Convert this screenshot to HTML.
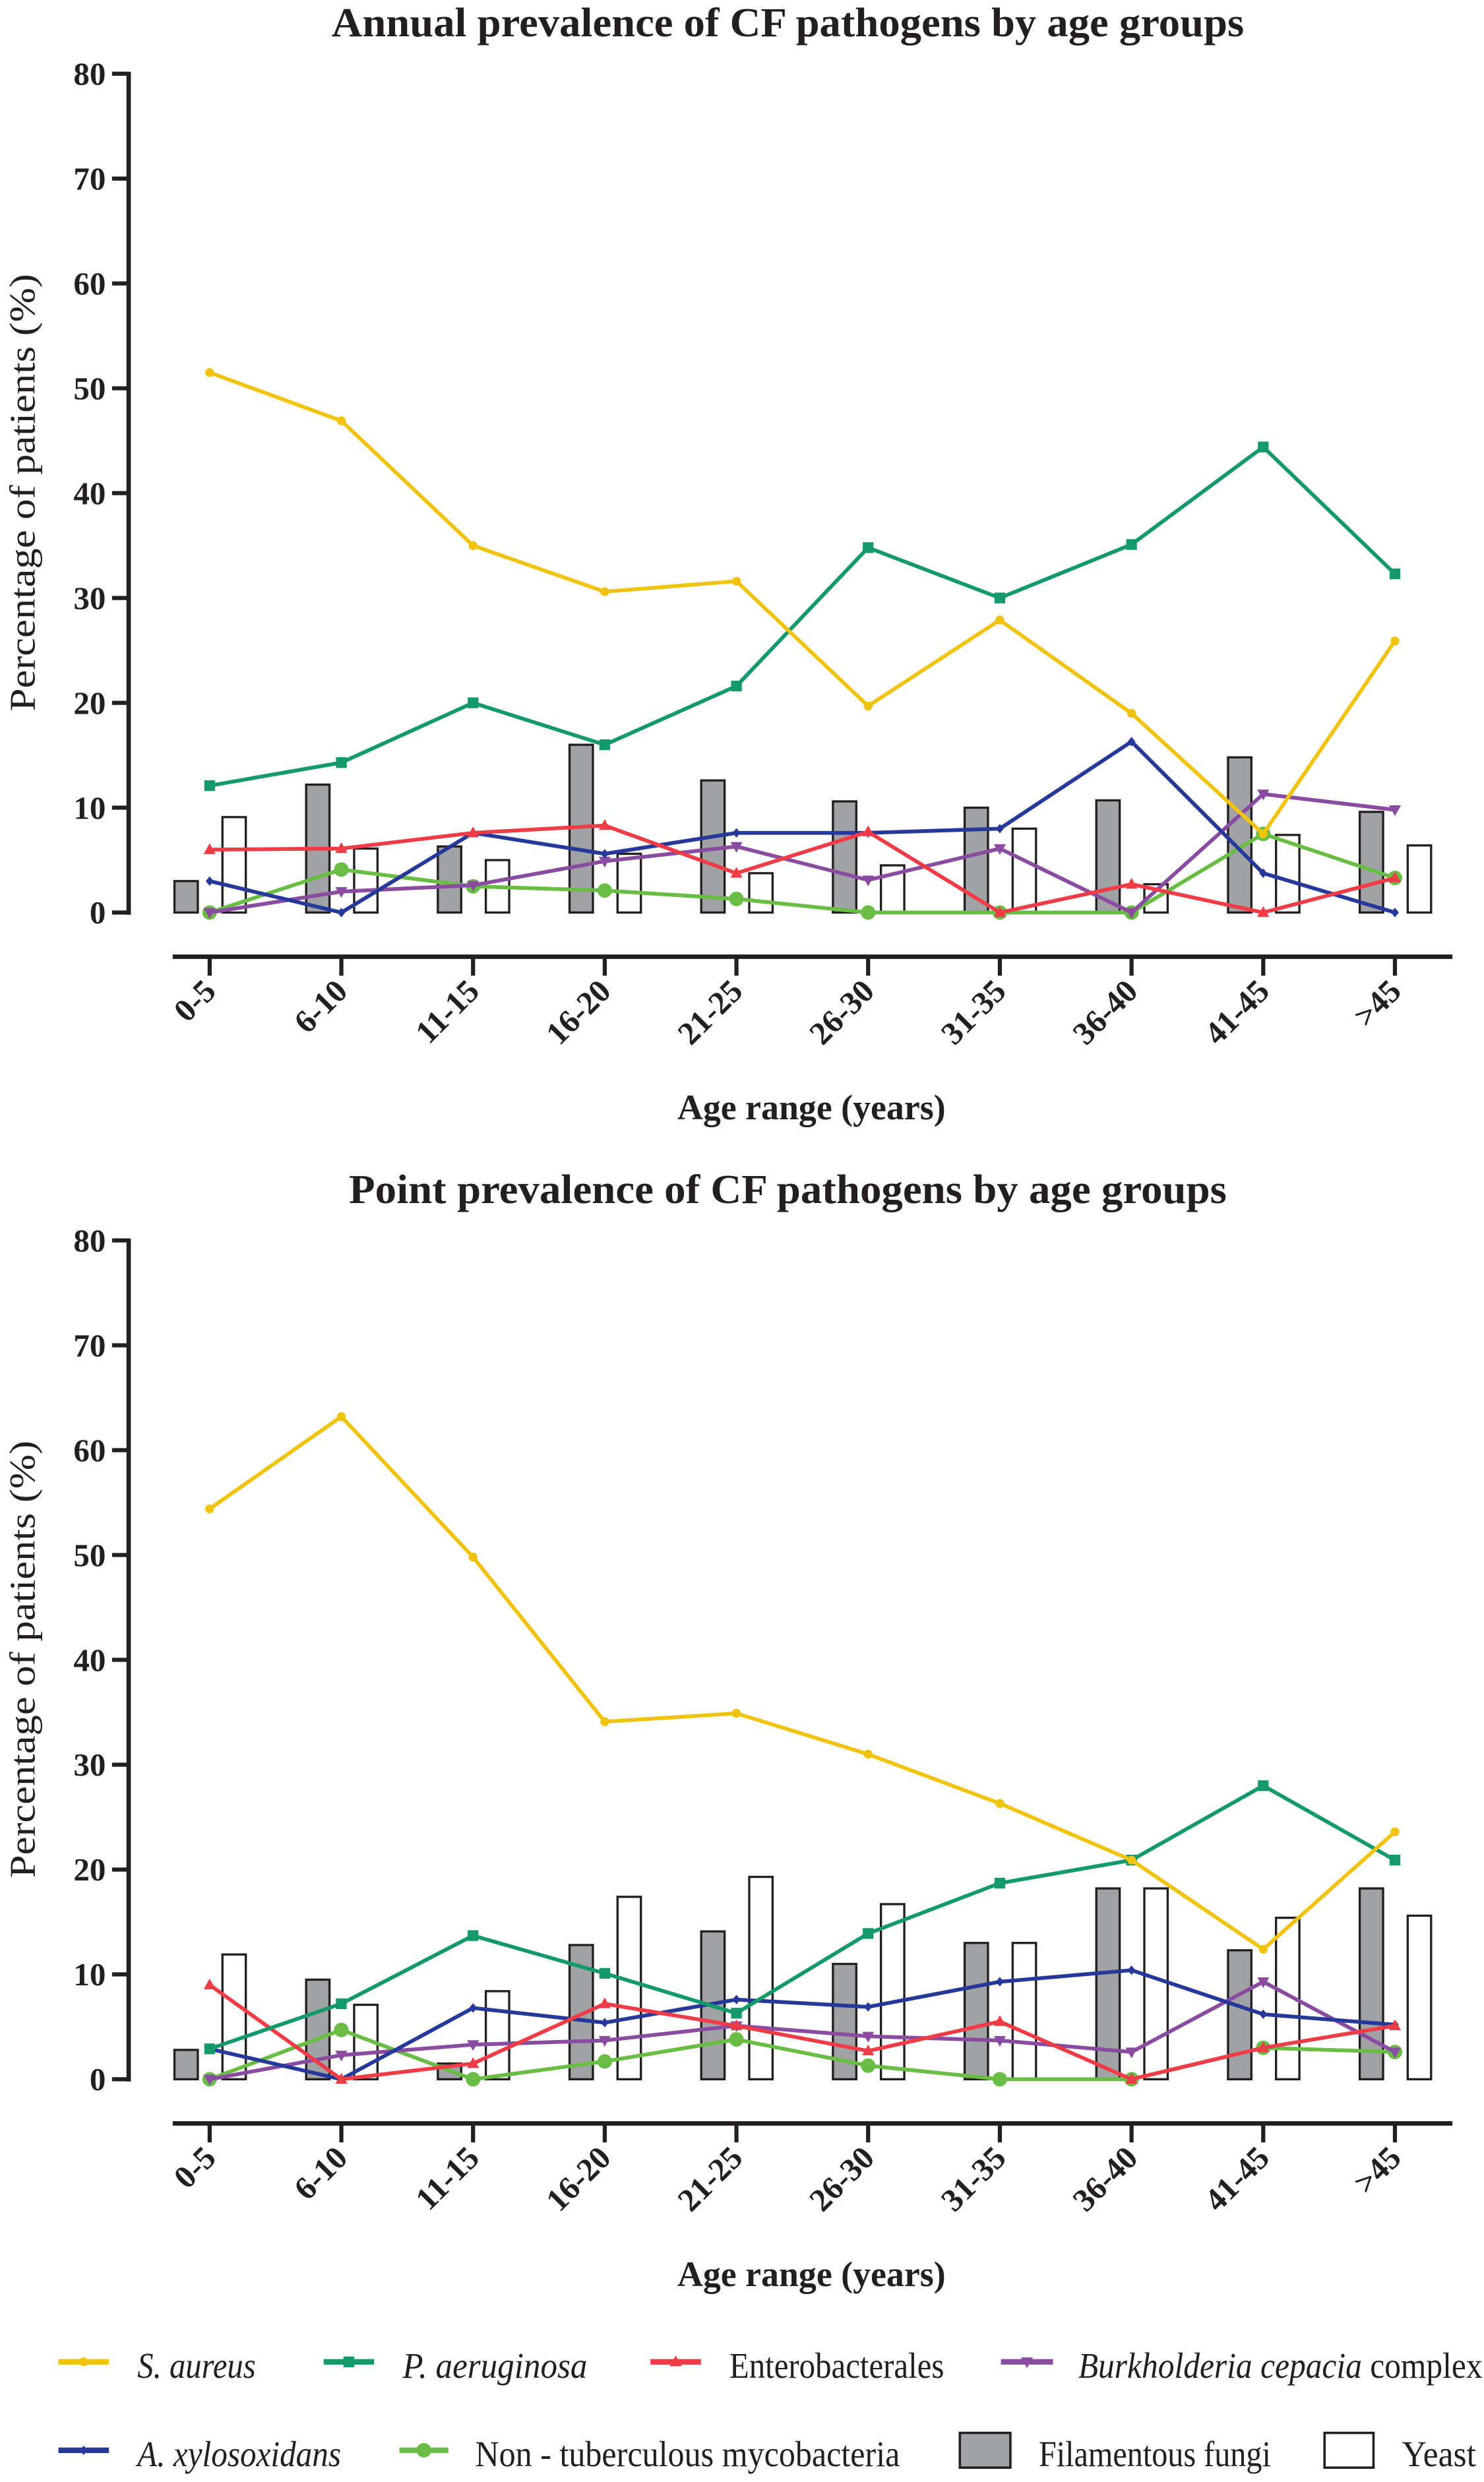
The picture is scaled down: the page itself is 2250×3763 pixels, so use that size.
<!DOCTYPE html>
<html><head><meta charset="utf-8"><style>
html,body{margin:0;padding:0;background:#fff;}
svg{display:block;}
text{font-family:"Liberation Serif",serif;fill:#231f20;}
</style></head>
<body>
<svg id="fig" xmlns="http://www.w3.org/2000/svg" width="2250" height="3763" viewBox="0 0 940 1572.1" preserveAspectRatio="none"></svg>
<script>
const categories = ["0-5","6-10","11-15","16-20","21-25","26-30","31-35","36-40","41-45",">45"];
const yTicks = [0,10,20,30,40,50,60,70,80];

const annualSAureus = [51.5,46.9,35,30.6,31.6,19.7,27.9,19.0,7.5,25.9];
const annualPAeruginosa = [12.1,14.3,20,16,21.6,34.8,30,35.1,44.4,32.3];
const annualEntero = [6.0,6.1,7.6,8.3,3.75,7.7,0,2.7,0,3.3];
const annualBurk = [0,2.0,2.6,4.9,6.3,3.1,6.1,0,11.3,9.8];
const annualAxylo = [3.0,0,7.6,5.6,7.6,7.6,8.0,16.3,3.75,0];
const annualNTM = [0,4.1,2.5,2.1,1.3,0,0,0,7.5,3.3];
const annualFungi = [3.0,12.2,6.3,16,12.6,10.6,10,10.7,14.8,9.6];
const annualYeast = [9.1,6.1,5.0,5.6,3.75,4.5,8.0,2.7,7.4,6.4];

const pointSAureus = [54.4,63.2,49.8,34.1,34.9,31.0,26.3,20.9,12.4,23.6];
const pointPAeruginosa = [2.9,7.2,13.7,10.1,6.3,13.9,18.7,20.9,28.0,20.9];
const pointEntero = [9.0,0,1.5,7.2,5.1,2.7,5.5,0,3.0,5.1];
const pointBurk = [0,2.3,3.3,3.7,5.1,4.1,3.7,2.6,9.3,2.6];
const pointAxylo = [2.9,0,6.8,5.4,7.6,6.9,9.3,10.4,6.2,5.2];
const pointNTM = [0,4.7,0,1.7,3.8,1.3,0,0,3.0,2.6];
const pointFungi = [2.8,9.5,1.5,12.8,14.1,11.0,13.0,18.2,12.3,18.2];
const pointYeast = [11.9,7.1,8.4,17.4,19.3,16.7,13.0,18.2,15.4,15.6];

const NS="http://www.w3.org/2000/svg";
const svg=document.getElementById('fig');
function mk(tag,attrs,parent){const e=document.createElementNS(NS,tag);for(const k in attrs)e.setAttribute(k,attrs[k]);(parent||svg).appendChild(e);return e;}

const C={sa:"#f0c30f",pa:"#13996a",en:"#ef3c46",bu:"#8a4ca0",ax:"#26389a",ntm:"#69bd45",fungi:"#a1a2a5"};

function marker(g,type,x,y,color){
  let m;
  if(type==="circle"){m=mk('circle',{cx:x,cy:y,r:2.8,fill:color},g);}
  else if(type==="bigcircle"){m=mk('circle',{cx:x,cy:y,r:4.6,fill:color},g);}
  else if(type==="square"){m=mk('rect',{x:x-3.4,y:y-3.4,width:6.8,height:6.8,fill:color},g);}
  else if(type==="tri-up"){m=mk('polygon',{points:`${x},${y-4} ${x-3.8},${y+2.8} ${x+3.8},${y+2.8}`,fill:color},g);}
  else if(type==="tri-down"){m=mk('polygon',{points:`${x},${y+4} ${x-3.8},${y-2.8} ${x+3.8},${y-2.8}`,fill:color},g);}
  else {m=mk('polygon',{points:`${x},${y-3} ${x+2.5},${y} ${x},${y+3} ${x-2.5},${y}`,fill:color},g);}
  
  
}

function drawChart(off,title,titleLen,d,prefix){
  const y0=578+off, y80=46.7+off;
  const yS=v=>y0-(y80-y0)*-v/80;
  const xS=i=>132.8+83.42*i;
  const g=mk('g',{});
  
  
  const t=mk('text',{x:499,y:23+off,'text-anchor':'middle','font-size':26,'font-weight':'bold',textLength:titleLen,lengthAdjust:'spacingAndGlyphs'},g);
  t.textContent=title;
  
  
  const ya=mk('line',{x1:81.5,y1:y80-1.2,x2:81.5,y2:y0+1.4,stroke:'#231f20','stroke-width':2.8},g);
  
  
  yTicks.forEach(v=>{
    const y=yS(v);
    mk('line',{x1:71,y1:y,x2:81.5,y2:y,stroke:'#231f20','stroke-width':2.6},g);
    const tl=mk('text',{x:67,y:y+7,'text-anchor':'end','font-size':20.5,'font-weight':'bold'},g);
    tl.textContent=v;
    
    
  });
  const yt=mk('text',{x:0,y:0,'text-anchor':'middle','font-size':23,textLength:277,lengthAdjust:'spacingAndGlyphs',transform:`translate(22,${312+off}) rotate(-90)`},g);
  yt.textContent="Percentage of patients (%)";
  
  
  const xa=mk('line',{x1:109.4,y1:606+off,x2:920,y2:606+off,stroke:'#231f20','stroke-width':2.8},g);
  
  
  categories.forEach((c,i)=>{
    const x=xS(i);
    mk('line',{x1:x,y1:606+off,x2:x,y2:618+off,stroke:'#231f20','stroke-width':2.6},g);
    const tl=mk('text',{x:0,y:0,'text-anchor':'end','font-size':20.5,'font-weight':'bold',transform:`translate(${x+5},${629+off}) rotate(-45)`},g);
    tl.textContent=c;
    
    
  });
  const xt=mk('text',{x:514,y:709+off,'text-anchor':'middle','font-size':22.5,'font-weight':'bold'},g);
  xt.textContent="Age range (years)";
  
  
  d.fungi.forEach((v,i)=>{
    const b=mk('rect',{x:xS(i)-22.3,y:yS(v),width:14.8,height:y0-yS(v),fill:C.fungi,stroke:'#231f20','stroke-width':1.4},g);
    
    
  });
  d.yeast.forEach((v,i)=>{
    const b=mk('rect',{x:xS(i)+8.1,y:yS(v),width:14.8,height:y0-yS(v),fill:'#fff',stroke:'#231f20','stroke-width':1.4},g);
    
    
  });
  const series=[
    [d.ntm,C.ntm,'bigcircle','line-ntm'],
    [d.burk,C.bu,'tri-down','line-burkholderia'],
    [d.ax,C.ax,'diamond','line-a-xylosoxidans'],
    [d.en,C.en,'tri-up','line-enterobacterales'],
    [d.pa,C.pa,'square','line-p-aeruginosa'],
    [d.sa,C.sa,'circle','line-s-aureus']
  ];
  series.forEach(([vals,color,mt,name])=>{
    const pts=vals.map((v,i)=>xS(i)+','+yS(v)).join(' ');
    const pl=mk('polyline',{points:pts,fill:'none',stroke:color,'stroke-width':2.4,'stroke-linejoin':'round'},g);
    
    
    vals.forEach((v,i)=>marker(g,mt,xS(i),yS(v),color));
  });
}

drawChart(0,"Annual prevalence of CF pathogens by age groups",578,
  {sa:annualSAureus,pa:annualPAeruginosa,en:annualEntero,burk:annualBurk,ax:annualAxylo,ntm:annualNTM,fungi:annualFungi,yeast:annualYeast},'annual');
drawChart(739,"Point prevalence of CF pathogens by age groups",556,
  {sa:pointSAureus,pa:pointPAeruginosa,en:pointEntero,burk:pointBurk,ax:pointAxylo,ntm:pointNTM,fungi:pointFungi,yeast:pointYeast},'point');

const legend=mk('g',{});


const legItems=[
  ['line',C.sa,'circle',37,69,87,1502,'S. aureus',75,true],
  ['line',C.pa,'square',205,237,255,1502,'P. aeruginosa',117,true],
  ['line',C.en,'tri-up',412,444,462,1502,'Enterobacterales',136,false],
  ['line',C.bu,'tri-down',634,667,683,1502,'Burkholderia cepacia complex',256,'bcc'],
  ['line',C.ax,'diamond',37,69,87,1558,'A. xylosoxidans',129,true],
  ['line',C.ntm,'bigcircle',253,284,301,1558,'Non - tuberculous mycobacteria',269,false],
  ['bar',C.fungi,null,608,640,658,1558,'Filamentous fungi',147,false],
  ['bar','#fff',null,839,870,888,1558,'Yeast',47,false]
];
legItems.forEach(([kind,color,mt,x1,x2,tx,y,label,tl,ital])=>{
  const g=mk('g',{},legend);
  
  
  if(kind==='line'){
    mk('line',{x1:x1,y1:y-6,x2:x2,y2:y-6,stroke:color,'stroke-width':3.5},g);
    marker(g,mt,(x1+x2)/2,y-6,color);
  } else {
    mk('rect',{x:x1,y:y-17,width:x2-x1,height:22,fill:color,stroke:'#231f20','stroke-width':1.5},g);
  }
  const t=mk('text',{x:tx,y:y+4,'font-size':23,textLength:tl,lengthAdjust:'spacingAndGlyphs'},g);
  if(ital==='bcc'){
    const a=mk('tspan',{'font-style':'italic'},t);a.textContent='Burkholderia cepacia';
    const b=mk('tspan',{},t);b.textContent=' complex';
  } else {
    if(ital) t.setAttribute('font-style','italic');
    t.textContent=label;
  }
  
  
});
</script>
</body></html>
